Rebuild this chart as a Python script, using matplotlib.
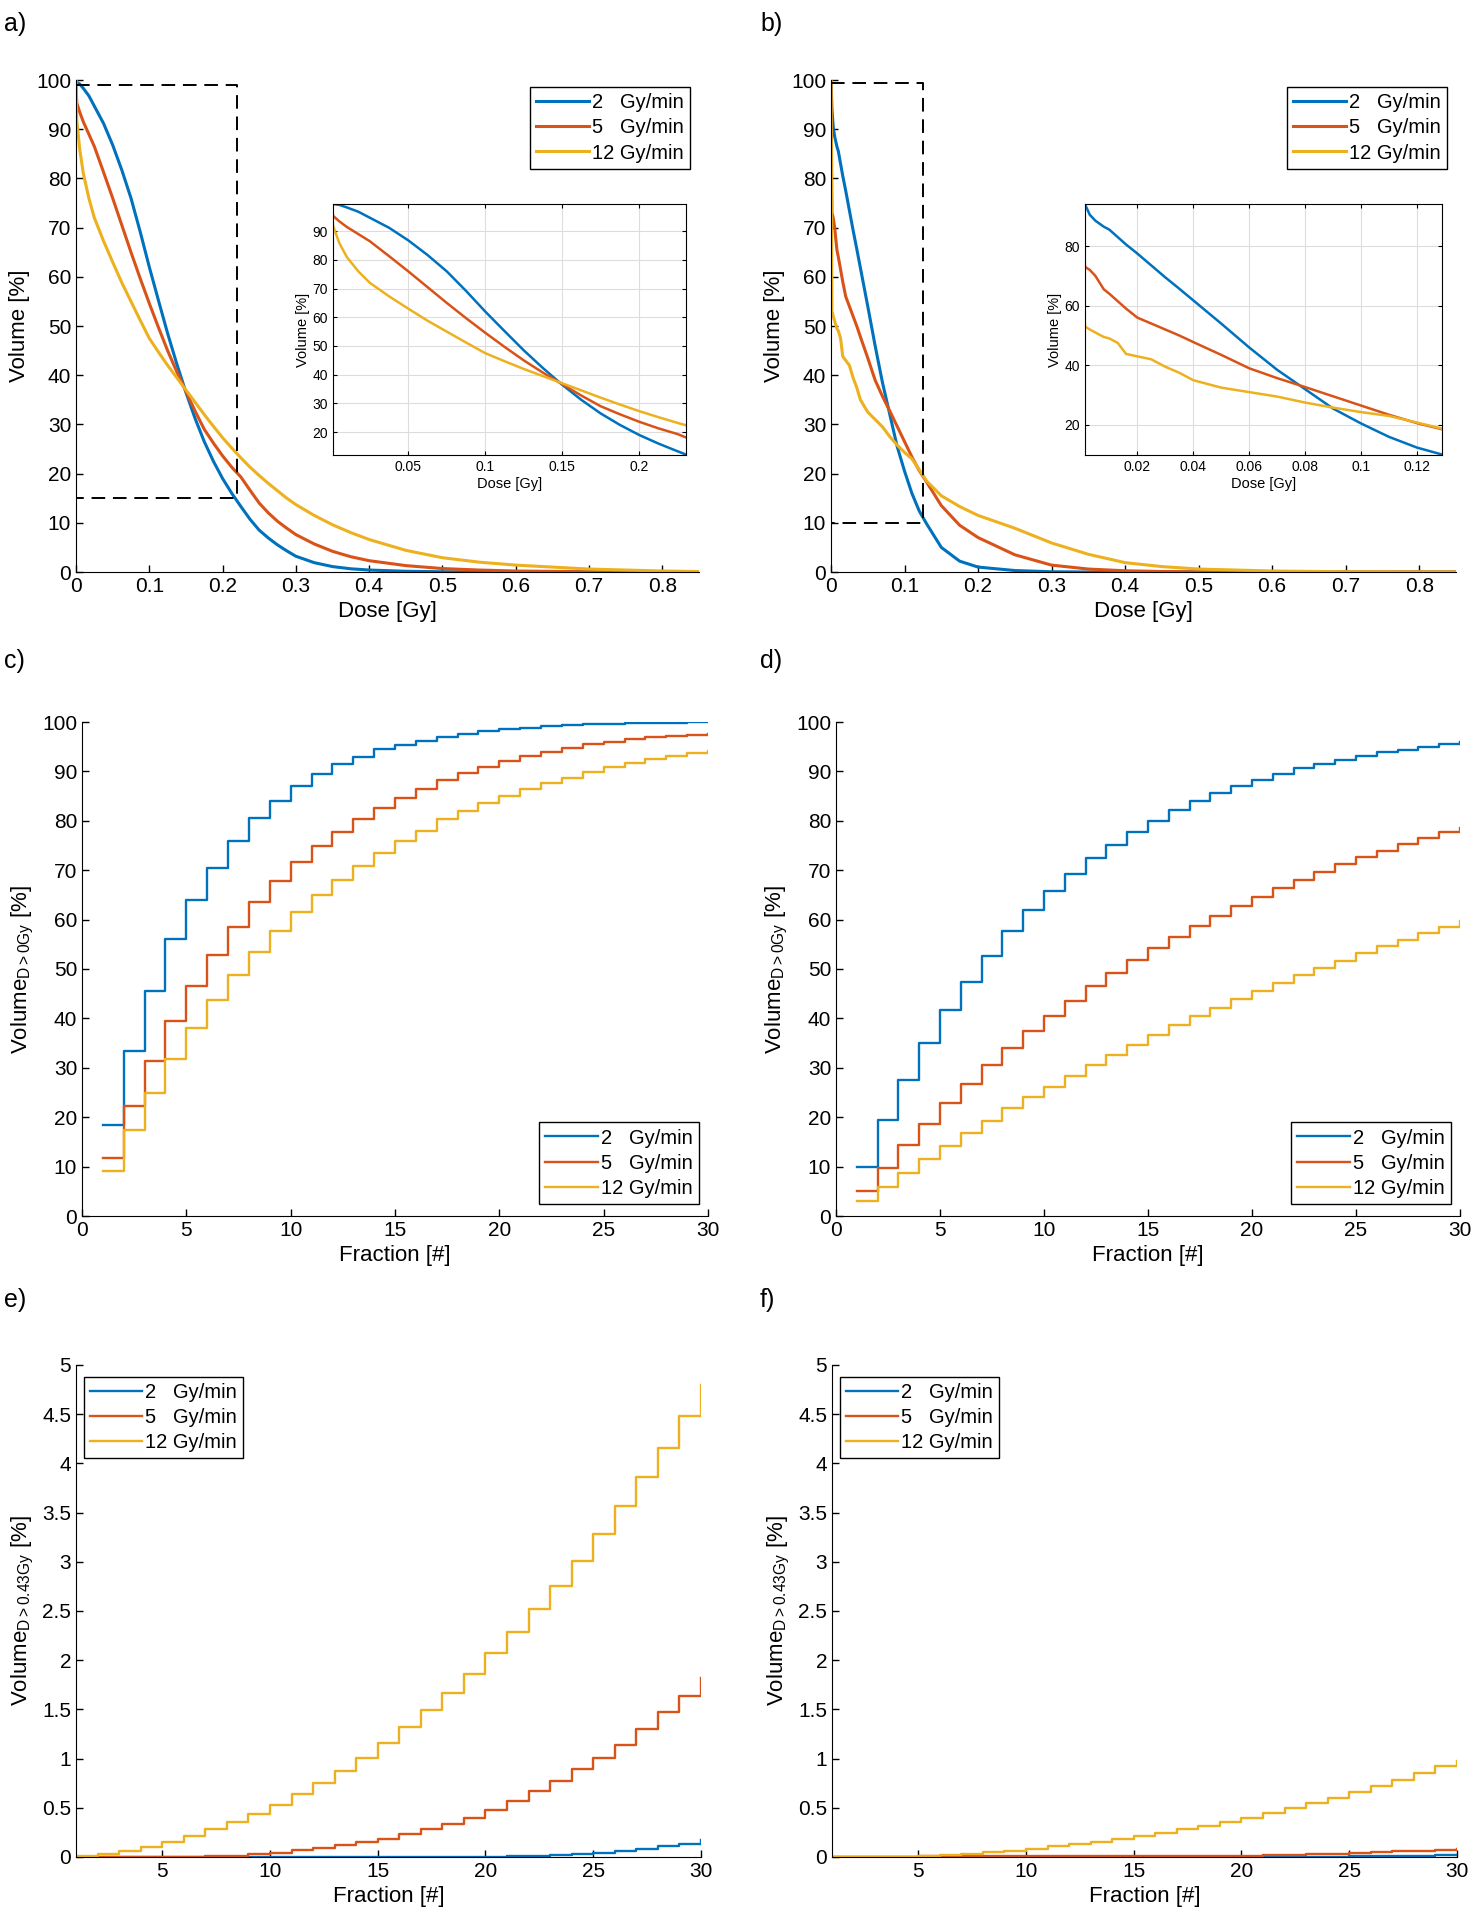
import numpy as np
import matplotlib
matplotlib.use("Agg")
import matplotlib.pyplot as plt
from matplotlib.ticker import FuncFormatter

plt.rcParams['font.family'] = ['Liberation Sans', 'DejaVu Sans']
plt.rcParams['mathtext.fontset'] = 'custom'
plt.rcParams['mathtext.rm'] = 'Liberation Sans'
plt.rcParams['mathtext.it'] = 'Liberation Sans'
plt.rcParams['xtick.direction'] = 'in'
plt.rcParams['ytick.direction'] = 'in'

labels = ["2   Gy/min", "5   Gy/min", "12 Gy/min"]
colors = ["#0072BD", "#D95319", "#EDB120"]

# ---- panel a: DVH, dose [Gy] vs volume [%]
dose_a = [0, 0.001, 0.005, 0.01, 0.0175, 0.025, 0.0375, 0.05, 0.0625, 0.075,
          0.0875, 0.1, 0.1125, 0.125, 0.1375, 0.15, 0.1625, 0.175, 0.1875, 0.2,
          0.2125, 0.225, 0.2375, 0.25, 0.2625, 0.275, 0.2875, 0.3, 0.325, 0.35,
          0.375, 0.4, 0.45, 0.5, 0.55, 0.6, 0.7, 0.8, 0.85]
vol_a_2 = [100, 99.5, 99.2, 98.3, 96.8, 94.7, 91.2, 86.8, 81.7, 76,
           69.2, 62, 55.2, 48.5, 42.3, 36.5, 31.2, 26.5, 22.5, 19,
           16, 13.3, 10.7, 8.5, 6.9, 5.5, 4.3, 3.2, 1.9, 1.1,
           0.65, 0.4, 0.15, 0.05, 0.02, 0, 0, 0, 0]
vol_a_5 = [100, 95.4, 93.5, 91.5, 89, 86.5, 81.3, 76, 70.5, 65,
           59.7, 54.6, 49.7, 45, 40.7, 36.7, 32.7, 29, 26.2, 23.6,
           21.3, 19.3, 16.6, 14, 12, 10.3, 8.9, 7.6, 5.7, 4.2,
           3.1, 2.3, 1.3, 0.7, 0.4, 0.2, 0.05, 0, 0]
vol_a_12 = [100, 92, 86, 81, 76, 72, 67.3, 63, 58.8, 55,
            51.2, 47.5, 44.7, 42, 39.5, 37, 34.5, 32, 29.6, 27.3,
            25.2, 23.2, 21.3, 19.6, 18, 16.5, 15, 13.7, 11.5, 9.6,
            8, 6.6, 4.4, 2.9, 2, 1.4, 0.6, 0.2, 0.1]

# ---- panel b
dose_b = [0, 0.0013, 0.003, 0.005, 0.008, 0.01, 0.013, 0.016, 0.02, 0.025, 0.03, 0.035,
          0.04, 0.05, 0.06, 0.07, 0.08, 0.09, 0.1, 0.11, 0.12, 0.13, 0.15, 0.175,
          0.2, 0.25, 0.3, 0.35, 0.4, 0.45, 0.5, 0.6, 0.7, 0.85]
vol_b_2 = [100, 94, 90.5, 88.5, 86.5, 85.5, 83, 80.5, 77.5, 73.5, 69.5, 65.7,
           61.8, 54, 46, 38.5, 32, 25.5, 20.5, 16, 12.4, 9.8, 5, 2.2,
           1, 0.3, 0.05, 0, 0, 0, 0, 0, 0, 0]
vol_b_5 = [100, 73, 72, 70, 65.5, 64, 61.5, 59, 56, 54, 52, 50,
           47.8, 43.5, 39, 35.7, 32.7, 29.6, 26.5, 23.4, 20.6, 18.3, 13.5, 9.5,
           7, 3.5, 1.4, 0.6, 0.25, 0.1, 0.05, 0, 0, 0]
vol_b_12 = [100, 53, 52, 51, 49.5, 49, 47.5, 43.8, 43, 42, 39.5, 37.5,
            35, 32.5, 31, 29.5, 27.5, 25.8, 24.3, 23, 20.8, 18.5, 15.5, 13.3,
            11.5, 8.9, 5.9, 3.6, 1.9, 1.1, 0.6, 0.2, 0.05, 0]

# ---- panels c-f: cumulative volume per fraction
fractions = list(range(1, 31))
vc_2 = [18.5, 33.5, 45.5, 56, 64, 70.5, 76, 80.5, 84, 87, 89.5, 91.5, 93, 94.5, 95.3,
        96.2, 97, 97.6, 98.1, 98.5, 98.8, 99.1, 99.3, 99.5, 99.6, 99.7, 99.8, 99.85, 99.9, 100]
vc_5 = [11.8, 22.3, 31.4, 39.5, 46.5, 52.9, 58.5, 63.5, 67.8, 71.6, 74.8, 77.7, 80.3, 82.6, 84.6,
        86.5, 88.2, 89.6, 90.9, 92.1, 93.1, 94.0, 94.8, 95.5, 96.0, 96.5, 96.9, 97.2, 97.4, 97.6]
vc_12 = [9.2, 17.4, 24.9, 31.7, 38.0, 43.7, 48.8, 53.4, 57.6, 61.5, 64.9, 68.0, 70.9, 73.5, 75.9,
         78.0, 80.3, 82.0, 83.6, 85.0, 86.4, 87.6, 88.7, 89.9, 90.8, 91.7, 92.5, 93.2, 93.7, 94.1]

vd_2 = [10, 19.5, 27.6, 35, 41.6, 47.4, 52.7, 57.6, 62, 65.8, 69.2, 72.4, 75.1, 77.7, 80,
        82.1, 84, 85.6, 87.1, 88.3, 89.4, 90.6, 91.4, 92.3, 93.2, 93.9, 94.4, 95.0, 95.5, 96.0]
vd_5 = [5, 9.7, 14.3, 18.7, 22.8, 26.8, 30.5, 34.0, 37.5, 40.4, 43.6, 46.5, 49.2, 51.8, 54.2,
        56.5, 58.8, 60.8, 62.8, 64.6, 66.4, 68.0, 69.6, 71.2, 72.6, 73.9, 75.3, 76.6, 77.7, 78.5]
vd_12 = [3, 5.8, 8.7, 11.5, 14.2, 16.8, 19.2, 21.8, 24.0, 26.1, 28.3, 30.5, 32.6, 34.6, 36.6,
         38.6, 40.4, 42.2, 43.9, 45.6, 47.1, 48.7, 50.3, 51.7, 53.2, 54.6, 55.8, 57.2, 58.6, 59.7]

ve_2 = [0, 0, 0, 0, 0, 0, 0, 0, 0, 0, 0, 0, 0, 0, 0,
        0, 0, 0, 0, 0.005, 0.008, 0.012, 0.02, 0.03, 0.045, 0.06, 0.08, 0.11, 0.13, 0.17]
ve_5 = [0, 0, 0, 0, 0, 0, 0.01, 0.015, 0.03, 0.045, 0.07, 0.09, 0.12, 0.15, 0.18,
        0.23, 0.28, 0.34, 0.40, 0.48, 0.57, 0.67, 0.77, 0.89, 1.01, 1.14, 1.30, 1.47, 1.64, 1.82]
ve_12 = [0.01, 0.03, 0.06, 0.1, 0.15, 0.21, 0.28, 0.36, 0.44, 0.53, 0.64, 0.75, 0.87, 1.01, 1.16,
         1.32, 1.49, 1.67, 1.86, 2.07, 2.29, 2.52, 2.75, 3.01, 3.28, 3.57, 3.86, 4.16, 4.48, 4.8]

vf_2 = [0, 0, 0, 0, 0, 0, 0, 0, 0, 0, 0, 0, 0, 0, 0,
        0, 0, 0, 0, 0, 0, 0, 0.005, 0.005, 0.006, 0.008, 0.01, 0.015, 0.018, 0.02]
vf_5 = [0, 0, 0, 0.005, 0.006, 0.007, 0.008, 0.009, 0.01, 0.01, 0.01, 0.01, 0.01, 0.01, 0.01,
        0.01, 0.01, 0.01, 0.012, 0.015, 0.018, 0.022, 0.03, 0.035, 0.04, 0.05, 0.06, 0.065, 0.07, 0.08]
vf_12 = [0, 0, 0, 0, 0.01, 0.02, 0.035, 0.05, 0.065, 0.085, 0.11, 0.13, 0.155, 0.18, 0.21,
         0.24, 0.28, 0.32, 0.36, 0.40, 0.45, 0.50, 0.55, 0.60, 0.66, 0.72, 0.78, 0.85, 0.92, 0.98]

W, H = 1480, 1920
fig = plt.figure(figsize=(W / 100, H / 100), dpi=100)


def rect(l, r, t, b):
    return [l / W, 1 - b / H, (r - l) / W, (b - t) / H]


fmt = FuncFormatter(lambda v, p: "{:g}".format(round(v, 6)))


def style(ax, fs=15):
    for s in ['top', 'right']:
        ax.spines[s].set_visible(False)
    ax.tick_params(labelsize=fs, length=5, width=1)
    ax.xaxis.set_major_formatter(fmt)
    ax.yaxis.set_major_formatter(fmt)


def legend(ax, loc, anchor):
    ax.legend(loc=loc, bbox_to_anchor=anchor, fontsize=14.5, fancybox=False,
              edgecolor='black', framealpha=1, handlelength=2.6, handletextpad=0.15,
              borderpad=0.3, labelspacing=0.3, borderaxespad=0)


# ---- DVH panels
def dvh(ax_rect, in_rect, dose, series, box, in_xlim, in_ylim, in_xt, in_yt, anchor):
    ax = fig.add_axes(rect(*ax_rect))
    for v, c, lab in zip(series, colors, labels):
        ax.plot(dose, v, color=c, lw=2.2, label=lab)
    ax.plot([0, box[0], box[0], 0], [box[2], box[2], box[1], box[1]],
            color='black', ls=(0, (7, 4)), lw=1.4)
    ax.set_xlim(0, 0.85)
    ax.set_ylim(0, 100)
    ax.set_xticks(np.arange(0, 0.81, 0.1))
    ax.set_yticks(np.arange(0, 101, 10))
    ax.set_xlabel("Dose [Gy]", fontsize=16, labelpad=4)
    ax.set_ylabel("Volume [%]", fontsize=16, labelpad=4)
    style(ax)
    legend(ax, 'upper right', anchor)

    ins = fig.add_axes(rect(*in_rect))
    for v, c in zip(series, colors):
        ins.plot(dose, v, color=c, lw=1.8)
    ins.set_xlim(*in_xlim)
    ins.set_ylim(*in_ylim)
    ins.set_xticks(in_xt)
    ins.set_yticks(in_yt)
    ins.grid(True, color='#dddddd', lw=0.8)
    ins.tick_params(labelsize=10, length=3, top=True, right=True)
    ins.xaxis.set_major_formatter(fmt)
    ins.yaxis.set_major_formatter(fmt)
    ins.set_xlabel("Dose [Gy]", fontsize=10.5, labelpad=2)
    ins.set_ylabel("Volume [%]", fontsize=10.5, labelpad=2)
    return ax


dvh((76, 699, 80, 572), (333, 686, 204, 455), dose_a, [vol_a_2, vol_a_5, vol_a_12],
    (0.22, 15, 99), (0.001, 0.2305), (12, 99.5),
    [0.05, 0.1, 0.15, 0.2], np.arange(20, 91, 10), (0.985, 0.985))
dvh((831, 1456, 80, 572), (1085, 1442, 204, 455), dose_b, [vol_b_2, vol_b_5, vol_b_12],
    (0.1255, 10, 99.4), (0.0013, 0.129), (9.9, 94.1),
    [0.02, 0.04, 0.06, 0.08, 0.1, 0.12], [20, 40, 60, 80], (0.985, 0.985))


# ---- fraction panels
def frac(ax_rect, series, ylim, yt, xlim, xt, ylab, loc, anchor):
    ax = fig.add_axes(rect(*ax_rect))
    for v, c, lab in zip(series, colors, labels):
        ax.step(fractions, v, where='post', color=c, lw=1.7, label=lab)
    ax.set_xlim(*xlim)
    ax.set_ylim(*ylim)
    ax.set_xticks(xt)
    ax.set_yticks(yt)
    ax.set_xlabel("Fraction [#]", fontsize=16, labelpad=4)
    ax.set_ylabel(ylab, fontsize=16, labelpad=4)
    style(ax)
    legend(ax, loc, anchor)
    return ax


lab0 = r"Volume$_{\mathrm{D>0Gy}}$ [%]"
lab43 = r"Volume$_{\mathrm{D>0.43Gy}}$ [%]"

frac((82, 708, 722, 1216), [vc_2, vc_5, vc_12], (0, 100), np.arange(0, 101, 10),
     (0, 30), np.arange(0, 31, 5), lab0, 'lower right', (0.985, 0.025))
frac((836, 1460, 722, 1216), [vd_2, vd_5, vd_12], (0, 100), np.arange(0, 101, 10),
     (0, 30), np.arange(0, 31, 5), lab0, 'lower right', (0.985, 0.025))
frac((76, 701, 1365, 1857), [ve_2, ve_5, ve_12], (0, 5), np.arange(0, 5.01, 0.5),
     (1, 30), np.arange(5, 31, 5), lab43, 'upper left', (0.012, 0.975))
frac((832, 1457, 1365, 1857), [vf_2, vf_5, vf_12], (0, 5), np.arange(0, 5.01, 0.5),
     (1, 30), np.arange(5, 31, 5), lab43, 'upper left', (0.012, 0.975))

# panel letters
for txt, x, y in [("a)", 4, 24), ("b)", 760, 24), ("c)", 4, 661),
                  ("d)", 760, 661), ("e)", 4, 1300), ("f)", 760, 1300)]:
    fig.text(x / W, 1 - y / H, txt, fontsize=18, va='center', ha='left')

fig.savefig("out.png", dpi=100)
